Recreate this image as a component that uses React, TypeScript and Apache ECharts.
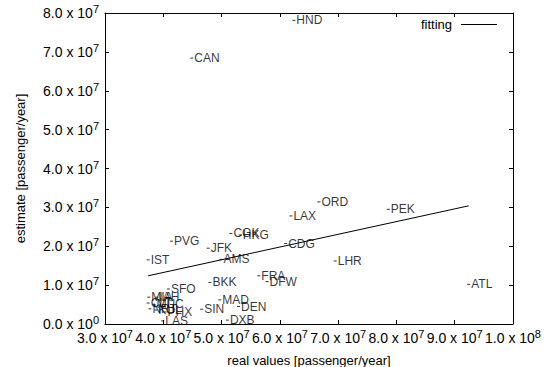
import React, { useEffect, useRef } from "react";
import * as echarts from "echarts";

const airports = ["HND","CAN","ORD","LAX","PEK","CDG","LHR","FRA","DFW","ATL","CGK","HKG","PVG","JFK","IST","AMS","BKK","SFO","MAD","DEN","SIN","DXB","LAS","MIA","IAH","CLT","MUC","NRT","KUL","PHX"];
const realValues = [6.24e7,4.49e7,6.67e7,6.19e7,7.86e7,6.10e7,6.95e7,5.64e7,5.78e7,9.24e7,5.16e7,5.32e7,4.14e7,4.77e7,3.74e7,4.99e7,4.80e7,4.09e7,4.97e7,5.29e7,4.66e7,5.10e7,3.99e7,3.75e7,3.89e7,3.74e7,3.84e7,3.77e7,3.87e7,4.03e7];
const estimates = [7.81e7,6.84e7,3.14e7,2.78e7,2.95e7,2.07e7,1.62e7,1.24e7,1.09e7,1.02e7,2.33e7,2.29e7,2.13e7,1.95e7,1.65e7,1.66e7,1.07e7,0.90e7,0.62e7,0.45e7,0.38e7,0.10e7,0.08e7,0.69e7,0.69e7,0.54e7,0.51e7,0.39e7,0.36e7,0.31e7];
const fitX = [3.74e7, 9.24e7];
const fitY = [1.24e7, 3.04e7];

const FONT = "'Liberation Sans', Arial, Helvetica, sans-serif";

function sciLabel(v: number): string {
  if (v === 0) return "{m|0.0 x 10}{e|0}";
  const exp = Math.floor(Math.log10(v) + 1e-9);
  const mant = v / Math.pow(10, exp);
  return "{m|" + mant.toFixed(1) + " x 10}{e|" + exp + "}";
}

const rich = {
  m: { fontSize: 14, color: "#000", fontFamily: FONT },
  e: { fontSize: 11, color: "#000", fontFamily: FONT, padding: [0, 0, 8, 0] },
};

export default function App() {
  const ref = useRef<HTMLDivElement>(null);
  useEffect(() => {
    if (!ref.current) return;
    const chart = echarts.init(ref.current, undefined, { renderer: "svg" });
    const points = airports.map((n, i) => ({ name: n, value: [realValues[i], estimates[i]] }));
    const axisLine = { show: true, onZero: false, lineStyle: { color: "#000", width: 1 } };
    const axisTick = { show: true, inside: true, length: 4, lineStyle: { color: "#000", width: 1 } };
    chart.setOption({
      animation: false,
      backgroundColor: "#fff",
      textStyle: { fontFamily: FONT },
      grid: { left: 105, right: 33, top: 13, bottom: 43, containLabel: false, outerBoundsMode: "none" },
      legend: {
        right: 49,
        top: 18,
        padding: 0,
        align: "right",
        itemWidth: 36,
        itemHeight: 1,
        data: [{ name: "fitting", icon: "rect", itemStyle: { color: "#000" } }],
        textStyle: { fontSize: 13, color: "#000", fontFamily: FONT, padding: [0, 4, 0, 0] },
      },
      xAxis: [
        {
          type: "value", min: 3e7, max: 1e8, interval: 1e7,
          axisLine, axisTick, splitLine: { show: false },
          axisLabel: { margin: 4, formatter: (v: number) => sciLabel(v), rich },
          name: "real values [passenger/year]", nameLocation: "middle", nameGap: 30,
          nameTextStyle: { fontSize: 13, color: "#000", fontFamily: FONT },
        },
        {
          type: "value", position: "top", min: 3e7, max: 1e8, interval: 1e7,
          axisLine, axisTick, splitLine: { show: false }, axisLabel: { show: false },
        },
      ],
      yAxis: [
        {
          type: "value", min: 0, max: 8e7, interval: 1e7,
          axisLine, axisTick, splitLine: { show: false },
          axisLabel: { margin: 6, formatter: (v: number) => sciLabel(v), rich },
          name: "estimate [passenger/year]", nameLocation: "middle", nameGap: 78,
          nameTextStyle: { fontSize: 13, color: "#000", fontFamily: FONT },
        },
        {
          type: "value", position: "right", min: 0, max: 8e7, interval: 1e7,
          axisLine, axisTick, splitLine: { show: false }, axisLabel: { show: false },
        },
      ],
      series: [
        {
          type: "scatter",
          name: "airports",
          data: points,
          symbol: "rect",
          symbolSize: [3, 1],
          itemStyle: { color: "#000" },
          label: {
            show: true,
            position: "right",
            distance: 1,
            formatter: "{b}",
            fontSize: 12,
            color: "#000",
            fontFamily: FONT,
          },
        },
        {
          type: "line",
          name: "fitting",
          data: fitX.map((x, i) => [x, fitY[i]]),
          symbol: "none",
          lineStyle: { color: "#000", width: 1 },
          itemStyle: { color: "#000" },
        },
      ],
    });
    return () => chart.dispose();
  }, []);
  return <div ref={ref} style={{ position: "fixed", left: 0, top: 0, width: 546, height: 367 }} />;
}
